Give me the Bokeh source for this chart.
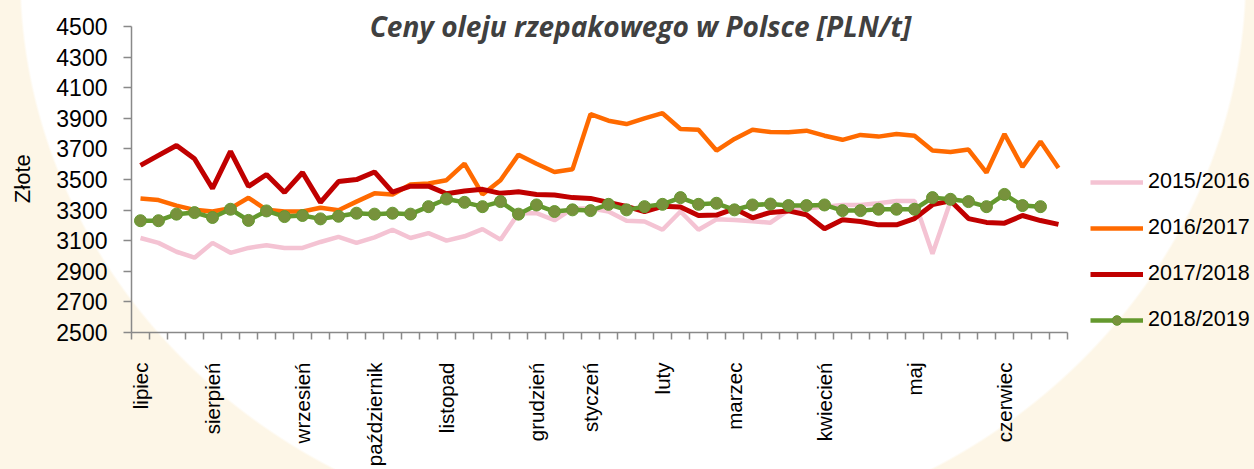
import math
from bokeh.plotting import figure
from bokeh.models import Range1d, FixedTicker, Legend, LegendItem, Label
from bokeh.embed import file_html
from bokeh.resources import INLINE

# ---------------- data ----------------
weeks = list(range(52))
month_names = ["lipiec", "sierpień", "wrzesień", "październik", "listopad", "grudzień",
               "styczeń", "luty", "marzec", "kwiecień", "maj", "czerwiec"]
month_weeks = [0, 4, 9, 13, 17, 22, 25, 29, 33, 38, 43, 48]
y_ticks = list(range(2500, 4501, 200))
series_names = ["2015/2016", "2016/2017", "2017/2018", "2018/2019"]

s2015 = [3118, 3086, 3028, 2989, 3086, 3021, 3053, 3071, 3053, 3053, 3092, 3125, 3086,
         3122, 3172, 3118, 3150, 3101, 3129, 3176, 3107, 3280, 3280, 3234, 3310, 3312,
         3291, 3231, 3226, 3172, 3291, 3172, 3240, 3235, 3228, 3218, 3300, 3312, 3323,
         3334, 3334, 3345, 3360, 3360, 3015, 3356]
s2016 = [3377, 3366, 3330, 3302, 3291, 3312, 3381, 3302, 3291, 3291, 3316, 3300, 3356,
         3410, 3403, 3468, 3474, 3496, 3604, 3403, 3496, 3663, 3604, 3550, 3567, 3928,
         3885, 3863, 3900, 3934, 3831, 3826, 3690, 3766, 3826, 3811, 3809, 3820, 3787,
         3760, 3792, 3781, 3798, 3787, 3690, 3680, 3696, 3546, 3798, 3582, 3749, 3576]
s2017 = [3593, 3658, 3723, 3636, 3442, 3684, 3455, 3533, 3416, 3546, 3351, 3487, 3500,
         3550, 3418, 3457, 3457, 3407, 3425, 3436, 3410, 3420, 3403, 3399, 3382, 3377,
         3351, 3325, 3290, 3325, 3320, 3265, 3268, 3310, 3250, 3285, 3295, 3270, 3178,
         3237, 3226, 3204, 3204, 3245, 3336, 3361, 3245, 3220, 3215, 3265, 3232, 3207]
s2018 = [3231, 3231, 3274, 3284, 3252, 3306, 3233, 3295, 3258, 3265, 3243, 3260, 3280,
         3274, 3280, 3274, 3323, 3373, 3351, 3323, 3356, 3274, 3334, 3291, 3302, 3297,
         3338, 3302, 3323, 3338, 3382, 3338, 3345, 3302, 3334, 3340, 3330, 3330, 3334,
         3297, 3297, 3306, 3306, 3306, 3382, 3371, 3356, 3323, 3403, 3330, 3323]

# ---------------- figure ----------------
# frame spans to the top and right edges (room for title and legend);
# axes are limited to the data area with bounds
p = figure(width=1254, height=469, output_backend="svg", toolbar_location=None,
           title=None, x_range=Range1d(-0.5, 61.89), y_range=Range1d(2500, 4671),
           min_border_left=131, min_border_right=0, min_border_top=0,
           min_border_bottom=134)
p.background_fill_color = None
p.border_fill_color = None
p.outline_line_color = None
p.styles = {"background": "radial-gradient(ellipse 614px 567px at 633px -25px, "
                          "#ffffff 99.6%, #FDF6E7 100%)"}
p.xgrid.visible = False
p.ygrid.visible = False

axis_gray = "#898989"

yax = p.yaxis[0]
yax.bounds = (2500, 4500)
yax.ticker = FixedTicker(ticks=y_ticks)
yax.axis_line_color = axis_gray
yax.axis_line_width = 1.5
yax.major_tick_line_color = axis_gray
yax.major_tick_line_width = 1.5
yax.major_tick_out = 8
yax.major_tick_in = 0
yax.minor_tick_line_color = None
yax.major_label_standoff = 16
yax.major_label_text_font = "Liberation Sans"
yax.major_label_text_font_size = "23px"
yax.major_label_text_color = "#000000"
# trailing no-break spaces centre the visible word on the 2500-4500 span
yax.axis_label = "Złote\u00a0\u00a0\u00a0\u00a0"
yax.axis_label_text_font = "Liberation Sans"
yax.axis_label_text_font_size = "22px"
yax.axis_label_text_font_style = "normal"
yax.axis_label_text_color = "#000000"
yax.axis_label_standoff = 18

xax = p.xaxis[0]
xax.bounds = (-0.5, 51.5)
xax.ticker = FixedTicker(ticks=month_weeks, minor_ticks=[k - 0.5 for k in range(53)])
xax.major_label_overrides = {w: n for w, n in zip(month_weeks, month_names)}
xax.major_label_orientation = math.pi / 2
xax.axis_line_color = axis_gray
xax.axis_line_width = 1.5
xax.major_tick_line_color = None
xax.major_tick_out = 0
xax.major_tick_in = 0
xax.minor_tick_line_color = axis_gray
xax.minor_tick_line_width = 1.5
xax.minor_tick_out = 7
xax.minor_tick_in = 0
xax.major_label_standoff = 23
xax.major_label_text_font = "Liberation Sans"
xax.major_label_text_font_size = "20.5px"
xax.major_label_text_color = "#000000"

# ---------------- series ----------------
r1 = p.line(weeks[:len(s2015)], s2015, line_color="#F4C3D3", line_width=4.5)
r2 = p.line(weeks[:len(s2016)], s2016, line_color="#FF6A00", line_width=4.5)
r3 = p.line(weeks[:len(s2017)], s2017, line_color="#C00000", line_width=5)
r4 = p.line(weeks[:len(s2018)], s2018, line_color="#64992E", line_width=4.5)
r5 = p.scatter(weeks[:len(s2018)], s2018, marker="circle", size=12,
               fill_color="#77923C", line_color="#64992E", line_width=1)

legend = Legend(items=[LegendItem(label=series_names[0], renderers=[r1]),
                       LegendItem(label=series_names[1], renderers=[r2]),
                       LegendItem(label=series_names[2], renderers=[r3]),
                       LegendItem(label=series_names[3], renderers=[r4, r5])],
                location=(959, 0), orientation="vertical",
                border_line_color=None, background_fill_alpha=0,
                padding=0, margin=0, spacing=21, glyph_width=53, glyph_height=24,
                label_height=24, label_standoff=5,
                label_text_font="Liberation Sans", label_text_font_size="21.5px",
                label_text_color="#000000", label_text_baseline="middle")
p.add_layout(legend)

title = Label(x=27.78, y=4507, text="Ceny oleju rzepakowego w Polsce [PLN/t]",
              text_font="Open Sans", text_font_style="bold italic",
              text_font_size="28px", text_color="#404040",
              text_align="center", text_baseline="alphabetic")
p.add_layout(title)

open("out.html", "w").write(file_html(p, INLINE))
